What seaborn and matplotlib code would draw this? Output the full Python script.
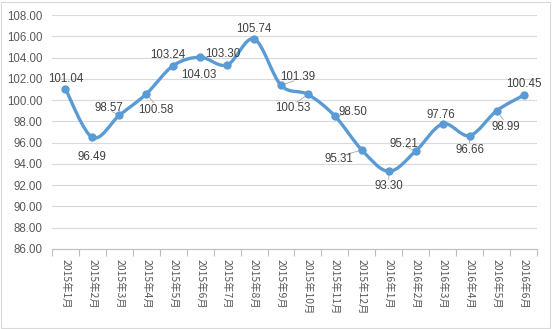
import numpy as np
import pandas as pd
import matplotlib
matplotlib.use("Agg")
import matplotlib.pyplot as plt
from matplotlib.path import Path
from matplotlib.patches import PathPatch, Rectangle
import seaborn as sns

months = ["2015年1月", "2015年2月", "2015年3月", "2015年4月", "2015年5月", "2015年6月",
          "2015年7月", "2015年8月", "2015年9月", "2015年10月", "2015年11月", "2015年12月",
          "2016年1月", "2016年2月", "2016年3月", "2016年4月", "2016年5月", "2016年6月"]
values = [101.04, 96.49, 98.57, 100.58, 103.24, 104.03, 103.30, 105.74, 101.39,
          100.53, 98.50, 95.31, 93.30, 95.21, 97.76, 96.66, 98.99, 100.45]
y_ticks = [86, 88, 90, 92, 94, 96, 98, 100, 102, 104, 106, 108]

# label offsets (pixels) and whether a leader line is drawn
label_offsets = [(0, 10), (0, -20), (-10, 7), (10, -16), (-5, 11), (-1, -18),
                 (-4, 11), (0, 10), (17, 8), (-15, -14), (18, 4), (-23, -9),
                 (0, -15), (-12, 7), (-2, 9), (0, -14), (9, -16), (0, 11)]
leaders = [False, False, True, True, False, False, False, False, True, True, True,
           True, True, True, False, True, True, False]

sns.set_theme(style="white")
plt.rcParams["font.family"] = ["Noto Sans CJK SC", "DejaVu Sans"]

df = pd.DataFrame({"month": months, "value": values, "pos": np.arange(len(months))})

LINE = "#5B9BD5"
GRID = "#D9D9D9"
NUMFONT = ["Liberation Sans", "DejaVu Sans"]

fig = plt.figure(figsize=(5.52, 3.29), dpi=100)
ax = fig.add_axes([0.0942, 0.2432, 0.8786, 0.7112])

# smoothed line: Catmull-Rom segments expressed as cubic Bezier curves
pts = df[["pos", "value"]].to_numpy(dtype=float)
ext = np.vstack([pts[0], pts, pts[-1]])
verts = [tuple(pts[0])]
codes = [Path.MOVETO]
for i in range(len(pts) - 1):
    p0, p1, p2, p3 = ext[i], ext[i + 1], ext[i + 2], ext[i + 3]
    c1 = p1 + (p2 - p0) / 6.0
    c2 = p2 - (p3 - p1) / 6.0
    verts += [tuple(c1), tuple(c2), tuple(p2)]
    codes += [Path.CURVE4] * 3
ax.add_patch(PathPatch(Path(verts, codes), facecolor="none", edgecolor=LINE,
                       lw=2.4, capstyle="round", joinstyle="round", zorder=3))

sns.scatterplot(data=df, x="pos", y="value", ax=ax, color=LINE, s=36,
                edgecolor=LINE, linewidth=0, zorder=4, legend=False)

# data labels
for (x, y, (dx, dy), lead) in zip(df["pos"], df["value"], label_offsets, leaders):
    ax.annotate(f"{y:.2f}", xy=(x, y), xytext=(dx, dy), textcoords="offset pixels",
                ha="center", va="center", fontsize=8.3, color="#404040",
                family=NUMFONT, zorder=5)
    if lead:
        ax.annotate("", xy=(x, y), xytext=(dx * 0.75, dy * 0.55),
                    textcoords="offset pixels",
                    arrowprops=dict(arrowstyle="-", color="#A6A6A6", lw=0.6,
                                    shrinkA=0, shrinkB=0), zorder=2)

ax.set_xlim(-0.5, len(months) - 0.5)
ax.set_ylim(86, 108)
ax.set_yticks(y_ticks)
ax.set_yticklabels([f"{v:.2f}" for v in y_ticks], fontsize=8.3, color="#595959",
                   family=NUMFONT)
ax.yaxis.grid(True, color=GRID, lw=0.8)
ax.set_axisbelow(True)

ax.set_xticks(df["pos"])
ax.set_xticklabels(months, rotation=-90, fontsize=7.5, color="#595959", va="top")
ax.set_xticks(np.arange(-0.5, len(months), 1.0), minor=True)
ax.tick_params(axis="x", which="major", length=0, pad=7)
ax.tick_params(axis="x", which="minor", length=5, width=0.8, color="#BFBFBF",
               direction="out", bottom=True)
ax.tick_params(axis="y", length=0, pad=7)
ax.set_xlabel("")
ax.set_ylabel("")

for s in ["top", "right", "left"]:
    ax.spines[s].set_visible(False)
ax.spines["bottom"].set_color("#BFBFBF")
ax.spines["bottom"].set_linewidth(0.8)

fig.patches.append(Rectangle((0.002, 0.004), 0.994, 0.99, transform=fig.transFigure,
                             fill=False, edgecolor="#D9D9D9", lw=0.8))

fig.savefig("out.png", dpi=100)
